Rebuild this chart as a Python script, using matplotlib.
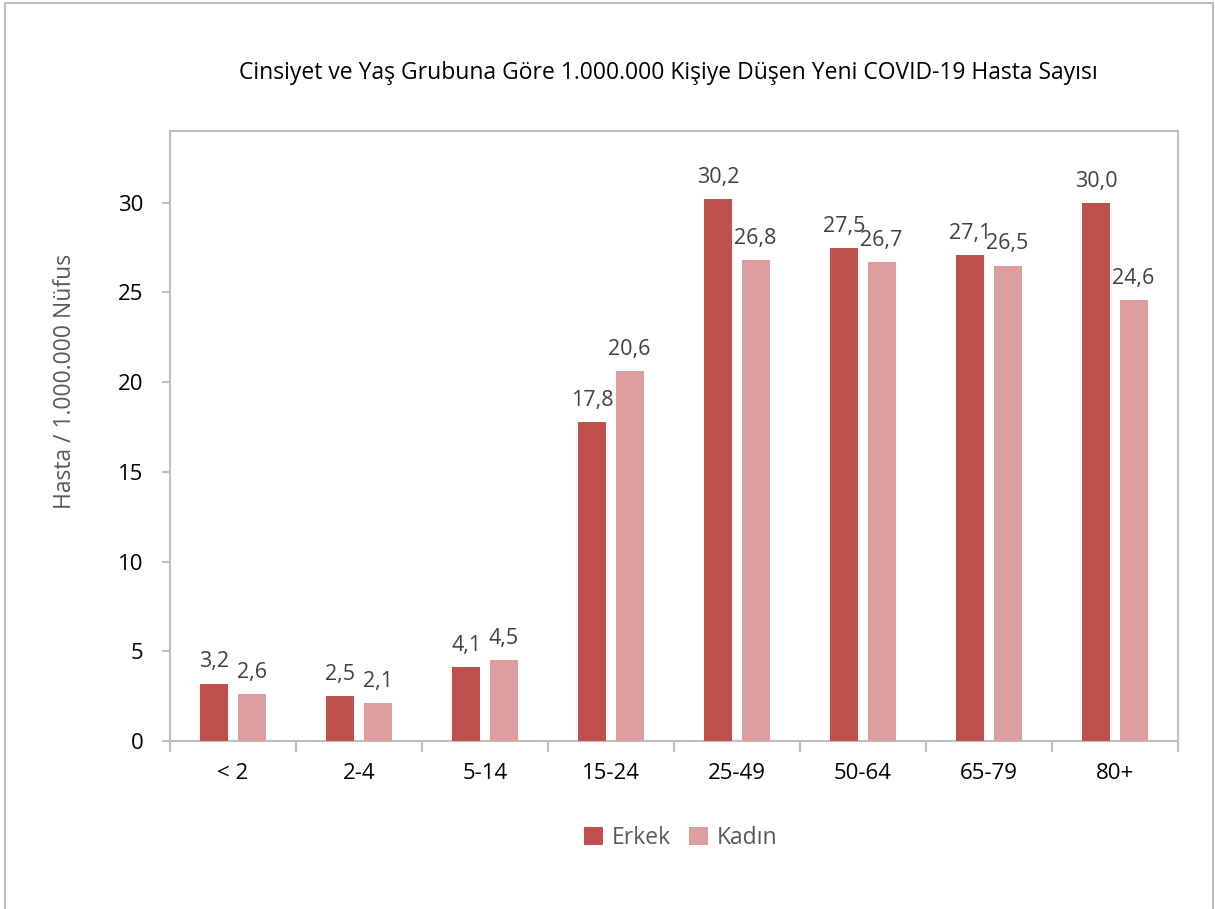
import matplotlib
matplotlib.use("Agg")
import matplotlib.pyplot as plt
import numpy as np
from matplotlib.patches import Rectangle

categories = ["< 2", "2-4", "5-14", "15-24", "25-49", "50-64", "65-79", "80+"]
erkek = [3.2, 2.5, 4.1, 17.8, 30.2, 27.5, 27.1, 30.0]
kadin = [2.6, 2.1, 4.5, 20.6, 26.8, 26.7, 26.5, 24.6]
yticks = [0, 5, 10, 15, 20, 25, 30]
title = "Cinsiyet ve Yaş Grubuna Göre 1.000.000 Kişiye Düşen Yeni COVID-19 Hasta Sayısı"
ylabel = "Hasta / 1.000.000 Nüfus"

plt.rcParams['font.family'] = ['Open Sans', 'DejaVu Sans']

fig = plt.figure(figsize=(12.15, 9.09), dpi=100)
W, H = 1215, 909
ax = fig.add_axes([170 / W, 1 - 741 / H, (1178 - 170) / W, (741 - 131) / H])

c_e = "#C0504D"
c_k = "#DD9E9F"
x = np.arange(len(categories))
bw = 0.222
off = 0.147
b1 = ax.bar(x - off, erkek, bw, color=c_e, label="Erkek", zorder=3)
b2 = ax.bar(x + off, kadin, bw, color=c_k, label="Kadın", zorder=3)

for bars, vals in ((b1, erkek), (b2, kadin)):
    for b, v in zip(bars, vals):
        ax.annotate(f"{v:.1f}".replace(".", ","),
                    (b.get_x() + b.get_width() / 2, v),
                    xytext=(0, 8), textcoords="offset points",
                    ha="center", va="bottom", fontsize=15.5, color="#404040")

ax.set_xlim(-0.5, len(categories) - 0.5)
ax.set_ylim(0, 34)
ax.set_yticks(yticks)
ax.set_yticklabels([str(t) for t in yticks], fontsize=16, color="#000000")
ax.set_xticks(np.arange(-0.5, len(categories) + 0.5, 1))
ax.set_xticklabels([])
ax.set_xticks(x, minor=True)
ax.set_xticklabels(categories, minor=True, fontsize=16)
ax.tick_params(axis="x", which="minor", length=0, pad=16)
ax.tick_params(axis="x", which="major", length=8, color="#BFBFBF", width=1.5)
ax.tick_params(axis="y", length=6, color="#BFBFBF", width=1.5, pad=13)
for s in ax.spines.values():
    s.set_color("#BFBFBF")
    s.set_linewidth(1.5)

ax.set_ylabel(ylabel, fontsize=16.5, color="#595959")
ax.yaxis.set_label_coords(-0.092, 0.589)

fig.text(668 / W, 1 - 73 / H, title, ha="center", va="center", fontsize=16.5, color="#000000")

leg = fig.legend(handles=[b1, b2], loc="center", bbox_to_anchor=(681 / W, 1 - 838 / H),
                 ncol=2, frameon=False, fontsize=16.5, handlelength=0.8, handleheight=0.8,
                 handletextpad=0.4, columnspacing=0.8)
for t in leg.get_texts():
    t.set_color("#595959")

frame = Rectangle((5 / W, -0.01), (1213 - 5) / W, 1 - 3 / H + 0.01, transform=fig.transFigure,
                  fill=False, edgecolor="#BFBFBF", linewidth=1.5)
fig.patches.append(frame)

fig.savefig("out.png", dpi=100)
